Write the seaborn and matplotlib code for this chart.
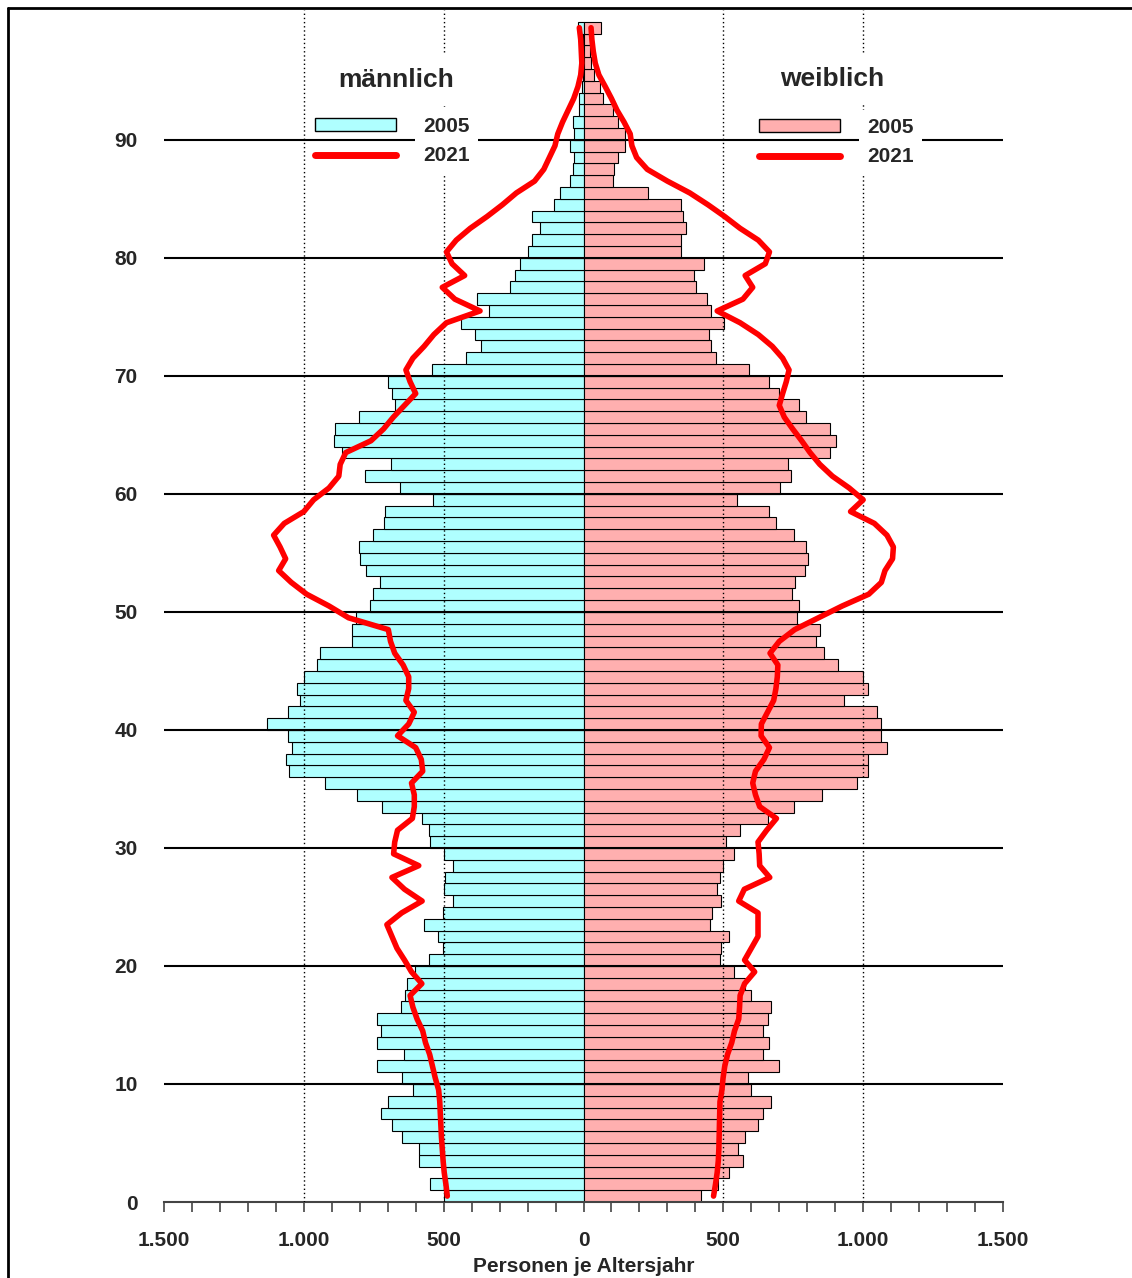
import numpy as np
import pandas as pd
import matplotlib
matplotlib.use("Agg")
import matplotlib.pyplot as plt
from matplotlib.lines import Line2D
from matplotlib.patches import Patch
from matplotlib.ticker import MultipleLocator
import seaborn as sns

# Altersjahre 0..99 (99 = 99 und älter)
AGES = list(range(100))

MALE_2005 = [
    500, 548, 504, 587, 587, 648, 683, 725, 698, 610,
    648, 737, 642, 737, 725, 737, 654, 637, 631, 604,
    554, 504, 521, 571, 504, 465, 498, 494, 465, 498,
    548, 554, 577, 721, 810, 925, 1054, 1063, 1042, 1058,
    1131, 1058, 1013, 1025, 998, 952, 942, 829, 829, 813,
    765, 754, 727, 777, 798, 804, 754, 715, 710, 538,
    656, 783, 687, 865, 892, 888, 804, 675, 683, 698,
    542, 419, 365, 388, 438, 338, 381, 262, 244, 227,
    198, 183, 154, 183, 106, 83, 50, 38, 35, 48,
    33, 38, 15, 15, 4, 2, 1, 1, 1, 21,
]
FEMALE_2005 = [
    421, 481, 521, 571, 554, 577, 625, 642, 671, 600,
    587, 698, 642, 665, 642, 660, 671, 600, 577, 538,
    488, 492, 521, 454, 460, 492, 477, 487, 500, 538,
    510, 560, 660, 754, 854, 977, 1019, 1019, 1086, 1063,
    1063, 1048, 933, 1019, 1000, 910, 860, 831, 844, 763,
    771, 744, 758, 792, 802, 796, 752, 690, 663, 550,
    704, 742, 731, 881, 902, 881, 796, 769, 700, 663,
    592, 475, 456, 448, 504, 456, 442, 404, 394, 431,
    350, 350, 365, 356, 350, 231, 104, 110, 123, 150,
    148, 123, 104, 71, 58, 38, 27, 23, 23, 62,
]
MALE_2021 = [
    487, 492, 498, 502, 505, 508, 510, 512, 514, 518,
    530, 540, 550, 565, 575, 595, 610, 620, 578, 615,
    640, 667, 685, 703, 650, 577, 640, 685, 589, 679,
    675, 665, 612, 605, 605, 615, 575, 580, 600, 665,
    625, 605, 635, 625, 625, 645, 675, 690, 698, 840,
    910, 990, 1045, 1090, 1065, 1085, 1108, 1070, 1000, 965,
    910, 875, 870, 850, 760, 715, 680, 640, 600, 620,
    635, 610, 570, 535, 490, 370, 460, 505, 425, 470,
    490, 455, 405, 345, 290, 240, 175, 142, 122, 102,
    92, 75, 55, 35, 20, 10, 6, 8, 10, 15,
]
FEMALE_2021 = [
    465, 472, 478, 482, 484, 485, 486, 487, 488, 495,
    499, 505, 515, 530, 540, 555, 558, 560, 576, 612,
    576, 600, 624, 624, 624, 555, 575, 666, 630, 628,
    624, 655, 690, 630, 615, 605, 615, 645, 665, 635,
    636, 658, 680, 688, 693, 695, 667, 700, 755, 840,
    925, 1020, 1065, 1078, 1105, 1108, 1085, 1040, 955, 1000,
    950, 890, 845, 810, 780, 748, 718, 700, 712, 725,
    735, 712, 675, 625, 560, 478, 570, 605, 578, 650,
    665, 625, 560, 505, 445, 380, 300, 228, 190, 173,
    167, 145, 120, 100, 78, 55, 42, 35, 30, 27,
]

XTICKS = [-1500, -1000, -500, 0, 500, 1000, 1500]
XTICK_LABELS = ["1.500", "1.000", "500", "0", "500", "1.000", "1.500"]
YTICKS = [0, 10, 20, 30, 40, 50, 60, 70, 80, 90]
DOTTED_AT = [-1000, -500, 500, 1000]

CYAN = "#AFFFFF"
PINK = "#FFAFAF"
RED = "#FF0000"

W, H = 1132, 1278

sns.set_style("white")
plt.rcParams["font.family"] = ["Liberation Sans", "DejaVu Sans"]
plt.rcParams["font.weight"] = "bold"

df = pd.DataFrame({"age": AGES, "m05": MALE_2005, "f05": FEMALE_2005,
                   "m21": MALE_2021, "f21": FEMALE_2021})
df["pos"] = df["age"] + 0.5          # Balken liegt zwischen a und a+1
df["m05_neg"] = -df["m05"]
df["m21_neg"] = -df["m21"]

fig = plt.figure(figsize=(W / 100, H / 100), dpi=100, facecolor="white")
ax = fig.add_axes([164 / W, 76 / H, (1003 - 164) / W, 1192 / H])

# Balken 2005
sns.barplot(data=df, x="m05_neg", y="pos", orient="h", native_scale=True,
            width=1, color=CYAN, saturation=1, edgecolor="black",
            linewidth=0.8, errorbar=None, ax=ax)
sns.barplot(data=df, x="f05", y="pos", orient="h", native_scale=True,
            width=1, color=PINK, saturation=1, edgecolor="black",
            linewidth=0.8, errorbar=None, ax=ax)

# Linien 2021
sns.lineplot(data=df, x="m21_neg", y="pos", orient="y", sort=False,
             estimator=None, color=RED, linewidth=4, ax=ax, zorder=4)
sns.lineplot(data=df, x="f21", y="pos", orient="y", sort=False,
             estimator=None, color=RED, linewidth=4, ax=ax, zorder=4)

for a in YTICKS[1:]:
    ax.axhline(a, color="black", lw=1.5, zorder=3)
for xv in DOTTED_AT:
    ax.axvline(xv, color="black", lw=1, ls=(0, (1, 2)), zorder=3)

ax.set_xlim(-1500, 1500)
ax.set_ylim(0, 101)

for side in ["left", "right", "top"]:
    ax.spines[side].set_visible(False)
ax.spines["bottom"].set_color("#444444")
ax.spines["bottom"].set_linewidth(1.5)

ax.set_xticks(XTICKS)
ax.set_xticklabels(XTICK_LABELS, fontsize=15, fontweight="bold")
ax.xaxis.set_minor_locator(MultipleLocator(100))
ax.tick_params(axis="x", which="both", bottom=True, direction="out",
               length=7, width=1.2, color="#444444", pad=14)
ax.set_yticks(YTICKS)
ax.set_yticklabels([str(v) for v in YTICKS], fontsize=15, fontweight="bold")
ax.tick_params(axis="y", left=False, length=0, pad=19)

ax.set_xlabel("Personen je Altersjahr", fontsize=15, fontweight="bold", labelpad=5)
ax.set_ylabel("")

# Titel + Legenden
fig.text(396 / W, 1 - 80 / H, "männlich", ha="center", va="center",
         fontsize=19, fontweight="bold",
         bbox=dict(facecolor="white", edgecolor="none", pad=10))
fig.text(832 / W, 1 - 79 / H, "weiblich", ha="center", va="center",
         fontsize=19, fontweight="bold",
         bbox=dict(facecolor="white", edgecolor="none", pad=10))


def add_legend(face, x_px, y_px):
    handles = [Patch(facecolor=face, edgecolor="black", linewidth=1),
               Line2D([], [], color=RED, lw=5)]
    leg = fig.legend(handles, ["2005", "2021"], loc="upper left",
                     bbox_to_anchor=(x_px / W, 1 - y_px / H),
                     frameon=False, fontsize=15, handlelength=3.9,
                     handleheight=0.55, handletextpad=1.3, labelspacing=0.5,
                     borderpad=0, borderaxespad=0)
    for t in leg.get_texts():
        t.set_bbox(dict(facecolor="white", edgecolor="none", pad=6))
    return leg


add_legend(CYAN, 315, 117)
add_legend(PINK, 759, 118)

# Rahmen oben / links
fig.add_artist(Line2D([8 / W, 8 / W], [0, 1 - 8 / H], transform=fig.transFigure,
                      color="black", lw=2))
fig.add_artist(Line2D([8 / W, 1], [1 - 8 / H, 1 - 8 / H], transform=fig.transFigure,
                      color="black", lw=2))

fig.savefig("out.png", dpi=100)
